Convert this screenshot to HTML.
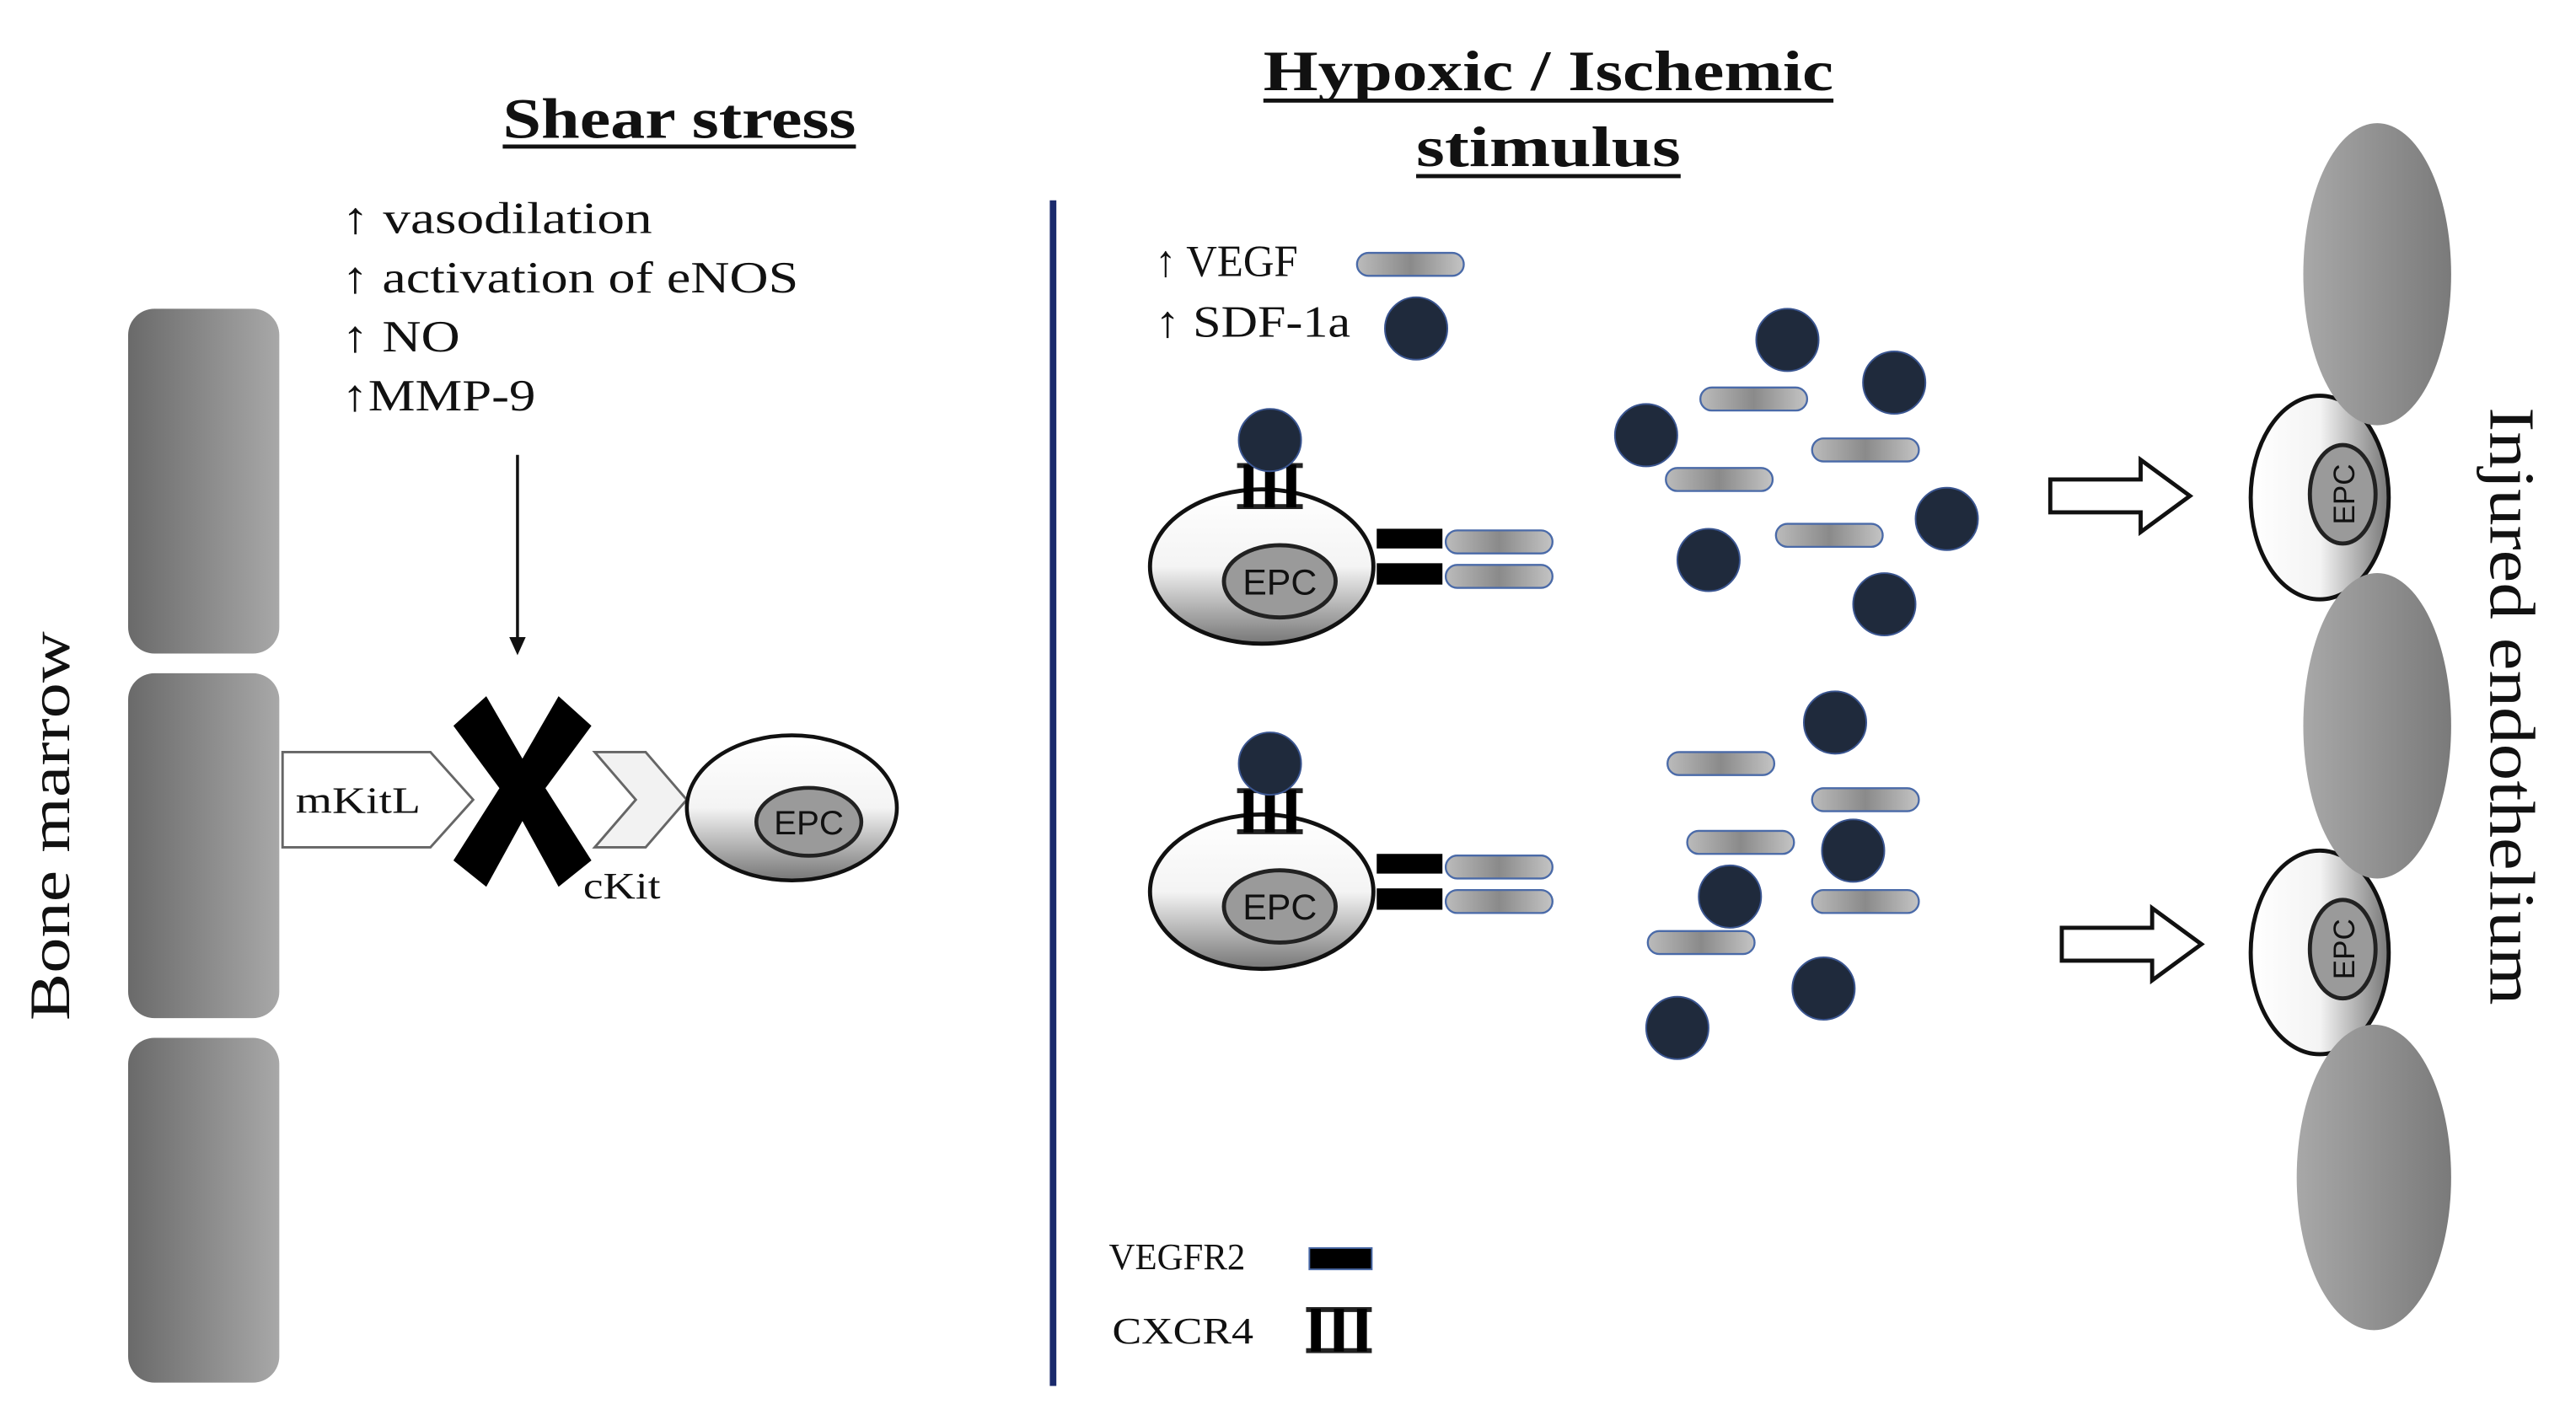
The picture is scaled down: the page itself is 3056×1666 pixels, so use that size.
<!DOCTYPE html>
<html><head><meta charset="utf-8"><style>
html,body{margin:0;padding:0;background:#fff}
svg{display:block}
text{font-family:"Liberation Serif",serif;fill:#111}
</style></head><body>
<svg width="3056" height="1666" viewBox="0 0 1568 855" preserveAspectRatio="none" xmlns="http://www.w3.org/2000/svg">
<defs>
<linearGradient id="bm" x1="0" x2="1" y1="0" y2="0"><stop offset="0" stop-color="#6a6a6a"/><stop offset="1" stop-color="#a8a8a8"/></linearGradient>
<linearGradient id="cell" x1="0" x2="0" y1="0" y2="1"><stop offset="0" stop-color="#fff"/><stop offset="0.5" stop-color="#f4f4f4"/><stop offset="1" stop-color="#777"/></linearGradient>
<linearGradient id="cellh" x1="0" x2="1" y1="0" y2="0"><stop offset="0" stop-color="#fff"/><stop offset="0.5" stop-color="#f4f4f4"/><stop offset="1" stop-color="#777"/></linearGradient>
<linearGradient id="pill" x1="0" x2="1" y1="0" y2="0"><stop offset="0" stop-color="#bbb"/><stop offset="0.5" stop-color="#8a8a8a"/><stop offset="1" stop-color="#c4c4c4"/></linearGradient>
<linearGradient id="endo" x1="0" x2="1" y1="0" y2="0"><stop offset="0" stop-color="#a8a8a8"/><stop offset="1" stop-color="#7a7a7a"/></linearGradient>
<g id="pl"><rect x="0" y="-7" width="65" height="14" rx="7" fill="url(#pill)" stroke="#4a6aa8" stroke-width="1.2"/></g>
<g id="dot"><circle r="19" fill="#1f2a3c" stroke="#3a5590" stroke-width="1"/></g>
<g id="cx">
<rect x="-20" y="-1" width="40" height="3" fill="#222"/><rect x="-20" y="24" width="40" height="3" fill="#222"/>
<rect x="-16" y="0" width="6" height="26" fill="#000"/><rect x="-3" y="0" width="6" height="26" fill="#000"/><rect x="10" y="0" width="6" height="26" fill="#000"/>
</g>
<g id="epc">
<ellipse cx="0" cy="0" rx="68" ry="47" fill="url(#cell)" stroke="#111" stroke-width="2.5"/>
<ellipse cx="11" cy="9" rx="34" ry="22" fill="#9a9a9a" stroke="#222" stroke-width="2.5"/>
<text x="11" y="17" font-size="22" text-anchor="middle" style="font-family:'Liberation Sans',sans-serif" fill="#222">EPC</text>
</g>
<g id="epcv">
<ellipse cx="0" cy="0" rx="42" ry="62" fill="url(#cellh)" stroke="#111" stroke-width="2.5"/>
<ellipse cx="14" cy="-2" rx="20" ry="30" fill="#9a9a9a" stroke="#222" stroke-width="2.5"/>
<text x="0" y="0" font-size="18" text-anchor="middle" transform="translate(14,-2) rotate(-90) translate(0,7)" style="font-family:'Liberation Sans',sans-serif" fill="#222">EPC</text>
</g>
<g id="oarrow"><polygon points="0,-10 55,-10 55,-22 85,0 55,22 55,10 0,10" fill="#fff" stroke="#111" stroke-width="2.5"/></g>
</defs>

<!-- bone marrow -->
<rect x="78" y="188" width="92" height="210" rx="16" fill="url(#bm)"/>
<rect x="78" y="410" width="92" height="210" rx="16" fill="url(#bm)"/>
<rect x="78" y="632" width="92" height="210" rx="16" fill="url(#bm)"/>
<text transform="translate(42,503) rotate(-90)" font-size="35" text-anchor="middle" textLength="237" lengthAdjust="spacingAndGlyphs">Bone marrow</text>

<text x="306" y="84" font-size="35" font-weight="bold" textLength="215" lengthAdjust="spacingAndGlyphs">Shear stress</text>
<rect x="306" y="88" width="215" height="2.5" fill="#111"/>
<text x="208" y="142" font-size="27" textLength="189" lengthAdjust="spacingAndGlyphs">↑ vasodilation</text>
<text x="208" y="178" font-size="27" textLength="278" lengthAdjust="spacingAndGlyphs">↑ activation of eNOS</text>
<text x="208" y="214" font-size="27" textLength="72" lengthAdjust="spacingAndGlyphs">↑ NO</text>
<text x="208" y="250" font-size="27" textLength="118" lengthAdjust="spacingAndGlyphs">↑MMP-9</text>
<line x1="315" y1="277" x2="315" y2="390" stroke="#111" stroke-width="1.8"/>
<polygon points="310,388 320,388 315,399" fill="#111"/>

<polygon points="172,458 262,458 288,487 262,516 172,516" fill="#fff" stroke="#666" stroke-width="1.5"/>
<text x="180" y="495" font-size="23" textLength="76" lengthAdjust="spacingAndGlyphs">mKitL</text>
<polygon points="362,458 393,458 418,487 393,516 362,516 387,487" fill="#f2f2f2" stroke="#666" stroke-width="1.5"/>
<text x="355" y="547" font-size="23" textLength="47" lengthAdjust="spacingAndGlyphs">cKit</text>
<g transform="translate(318,482)">
<polygon points="-42,-40 -22,-58 0,-20 22,-58 42,-40 14,-2 42,42 22,58 0,18 -22,58 -42,42 -14,-2" fill="#000"/>
</g>
<g transform="translate(482,492) scale(0.94)"><use href="#epc"/></g>

<!-- divider -->
<rect x="639" y="122" width="4" height="722" fill="#1a2a6c"/>

<text x="769" y="55" font-size="35" font-weight="bold" textLength="347" lengthAdjust="spacingAndGlyphs">Hypoxic / Ischemic</text>
<rect x="769" y="60" width="347" height="2.5" fill="#111"/>
<text x="862" y="101" font-size="35" font-weight="bold" textLength="161" lengthAdjust="spacingAndGlyphs">stimulus</text>
<rect x="862" y="106" width="161" height="2.5" fill="#111"/>

<text x="703" y="168" font-size="27" textLength="87" lengthAdjust="spacingAndGlyphs">↑ VEGF</text>
<use href="#pl" x="826" y="161"/>
<text x="703" y="205" font-size="27" textLength="119" lengthAdjust="spacingAndGlyphs">↑ SDF-1a</text>
<use href="#dot" x="862" y="200"/>

<!-- cell 1 -->
<use href="#epc" x="768" y="345"/>
<use href="#cx" x="773" y="283"/>
<use href="#dot" x="773" y="268"/>
<rect x="838" y="322" width="40" height="12" fill="#000"/>
<rect x="838" y="343" width="40" height="13" fill="#000"/>
<use href="#pl" x="880" y="330"/>
<use href="#pl" x="880" y="351"/>

<!-- cell 2 -->
<use href="#epc" x="768" y="543"/>
<use href="#cx" x="773" y="481"/>
<use href="#dot" x="773" y="465"/>
<rect x="838" y="520" width="40" height="12" fill="#000"/>
<rect x="838" y="541" width="40" height="13" fill="#000"/>
<use href="#pl" x="880" y="528"/>
<use href="#pl" x="880" y="549"/>

<!-- cluster 1 -->
<use href="#dot" x="1088" y="207"/><use href="#dot" x="1153" y="233"/><use href="#dot" x="1002" y="265"/>
<use href="#dot" x="1185" y="316"/><use href="#dot" x="1040" y="341"/><use href="#dot" x="1147" y="368"/>
<use href="#pl" x="1035" y="243"/><use href="#pl" x="1103" y="274"/><use href="#pl" x="1014" y="292"/><use href="#pl" x="1081" y="326"/>
<!-- cluster 2 -->
<use href="#dot" x="1117" y="440"/><use href="#dot" x="1128" y="518"/><use href="#dot" x="1053" y="546"/>
<use href="#dot" x="1110" y="602"/><use href="#dot" x="1021" y="626"/>
<use href="#pl" x="1015" y="465"/><use href="#pl" x="1103" y="487"/><use href="#pl" x="1027" y="513"/><use href="#pl" x="1103" y="549"/><use href="#pl" x="1003" y="574"/>

<use href="#oarrow" x="1248" y="302"/>
<use href="#oarrow" x="1255" y="575"/>

<!-- endothelium -->
<use href="#epcv" x="1412" y="303"/>
<use href="#epcv" x="1412" y="580"/>
<ellipse cx="1447" cy="167" rx="45" ry="92" fill="url(#endo)"/>
<ellipse cx="1447" cy="442" rx="45" ry="93" fill="url(#endo)"/>
<ellipse cx="1445" cy="717" rx="47" ry="93" fill="url(#endo)"/>
<text transform="translate(1516,430) rotate(90)" font-size="39" text-anchor="middle" textLength="364" lengthAdjust="spacingAndGlyphs">Injured endothelium</text>

<!-- legend -->
<text x="675" y="773" font-size="23" textLength="83" lengthAdjust="spacingAndGlyphs">VEGFR2</text>
<rect x="797" y="760" width="38" height="13" fill="#000" stroke="#4a6aa8" stroke-width="1"/>
<text x="677" y="818" font-size="23" textLength="86" lengthAdjust="spacingAndGlyphs">CXCR4</text>
<g transform="translate(815,797)">
<rect x="-20" y="-1" width="40" height="3" fill="#222"/><rect x="-20" y="24" width="40" height="3" fill="#222"/>
<rect x="-17" y="0" width="6" height="26" fill="#000"/><rect x="-3" y="0" width="6" height="26" fill="#000"/><rect x="11" y="0" width="6" height="26" fill="#000"/>
</g>
</svg>
</body></html>
